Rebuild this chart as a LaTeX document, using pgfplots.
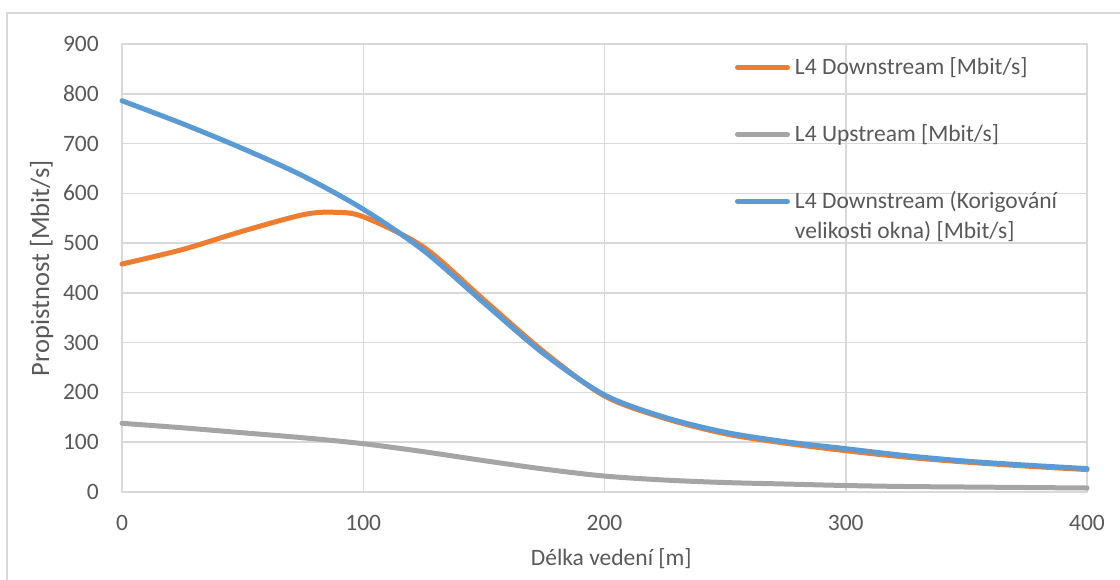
\documentclass[border=0pt]{standalone}
\usepackage{pgfplots}
\pgfplotsset{compat=1.18}
\usepackage{fontspec}
\setmainfont{Carlito}
\definecolor{gridgray}{HTML}{D9D9D9}
\definecolor{txtgray}{HTML}{595959}
\definecolor{xlorange}{HTML}{ED7D31}
\definecolor{xlgray}{HTML}{A5A5A5}
\definecolor{xlblue}{HTML}{5B9BD5}
\begin{document}
\begin{tikzpicture}
\useasboundingbox (0,0) rectangle (1120pt,580pt);
\draw[gridgray, line width=1.5pt] (7pt,-20pt) rectangle (1140pt,567pt);
\begin{axis}[
  at={(122pt,88pt)}, anchor=south west,
  width=965pt, height=448pt, scale only axis,
  xmin=0, xmax=400, ymin=0, ymax=900,
  xtick distance=100, ytick distance=100,
  grid=major,
  major grid style={gridgray, line width=1.5pt},
  axis line style={gridgray, line width=1.5pt},
  major tick length=0pt,
  clip=false,
  /pgf/number format/assume math mode=true,
  tick label style={font=\fontsize{23.5}{28}\selectfont, text=txtgray, inner sep=0pt},
  yticklabel style={xshift=-23pt, text height=15pt, text depth=0pt},
  xticklabel style={yshift=-23pt, text height=15pt, text depth=0pt},
  label style={font=\fontsize{23.5}{28}\selectfont, text=txtgray, inner sep=0pt},
  xlabel={Délka vedení [m]},
  ylabel={Propistnost [Mbit/s]},
  xlabel style={at={(axis description cs:0.507,-0.163)}, anchor=base},
  ylabel style={at={(axis description cs:-0.0756,0.5)}, anchor=base, rotate=0, font=\fontsize{26.5}{30}\selectfont},
  legend cell align=left,
  legend style={draw=none, fill=none, inner sep=0pt,
    at={(axis description cs:0.635,0.974)}, anchor=north west,
    row sep=44pt, column sep=5pt,
    nodes={font=\fontsize{23.5}{28}\selectfont, text=txtgray, text height=19pt, text depth=4pt, inner sep=0pt}},
  legend image code/.code={\draw[#1, line cap=round] (2.5pt,0pt) -- (52.5pt,0pt);},
  every axis plot/.append style={line width=5pt, line cap=round, line join=round, smooth},
]
\addplot[xlorange] coordinates {
(0,458) (25,487) (50,524) (75,557) (87.5,562) (100,553) (125,492) (150,386) (175,281) (200,193)
(225,148) (250,117) (275,98) (300,83) (325,70) (350,60) (375,52) (400,45)};
\addlegendentry{L4 Downstream [Mbit/s]}
\addplot[xlgray] coordinates {
(0,138) (25,129) (50,119) (75,109) (100,97) (125,81) (150,63) (175,46) (200,32)
(225,24) (250,19) (275,16) (300,13) (325,11) (350,10) (375,9) (400,8)};
\addlegendentry{L4 Upstream [Mbit/s]}
\addplot[xlblue] coordinates {
(0,786) (25,740) (50,690) (75,635) (100,568) (125,485) (150,380) (175,277) (200,195)
(225,150) (250,120) (275,101) (300,87) (325,73) (350,62) (375,54) (400,47)};
\addlegendentry{\makebox[0pt][l]{\raisebox{-30pt}[0pt][0pt]{velikosti okna) [Mbit/s]}}L4 Downstream (Korigování}
\end{axis}
\end{tikzpicture}
\end{document}
